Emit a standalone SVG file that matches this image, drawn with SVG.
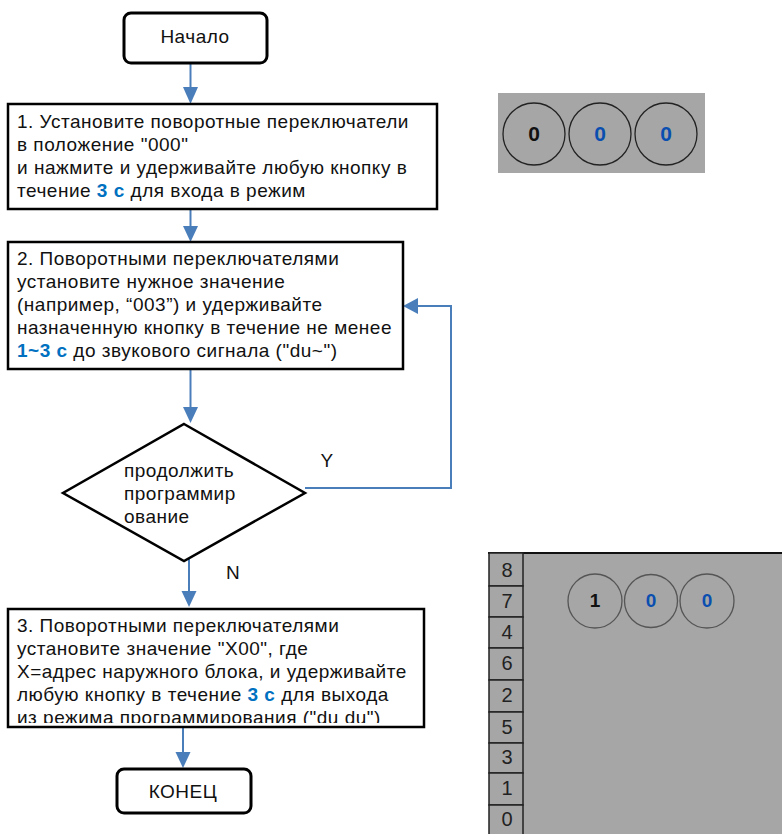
<svg xmlns="http://www.w3.org/2000/svg" width="782" height="834" viewBox="0 0 782 834">
<style>
  text { font-family: "Liberation Sans", Arial, sans-serif; font-size: 19px; letter-spacing: 0.5px; fill: #111; }
  .b { fill: #0070c0; font-weight: bold; }
  .box { fill: #fff; stroke: #000; stroke-width: 2.5; }
  .term { fill: #fff; stroke: #000; stroke-width: 3; }
  .conn { fill: none; stroke: #4a7ebb; stroke-width: 2; }
  .head { fill: #4a7ebb; }
  .panel { fill: #a6a6a6; }
  .dial { fill: none; stroke: #222; stroke-width: 1.3; }
  .dial2 { fill: none; stroke: #555; stroke-width: 1.3; }
  .d0 { font-weight: bold; font-size: 21px; letter-spacing: 0; text-anchor: middle; }
  .d1 { font-weight: bold; font-size: 19px; letter-spacing: 0; text-anchor: middle; }
  .blu { fill: #0a4fb0; }
  .cell { fill: #a6a6a6; stroke: #222; stroke-width: 1.5; }
  .num { font-size: 20px; letter-spacing: 0; text-anchor: middle; fill: #222; }
</style>
<defs>
  <clipPath id="c3"><rect x="8" y="609" width="415" height="114"/></clipPath>
</defs>
<rect width="782" height="834" fill="#fff"/>

<g id="connectors">
  <line class="conn" x1="190.5" y1="64" x2="190.5" y2="88"/>
  <path class="head" d="M183,87 L198,87 L190.5,104 Z"/>
  <line class="conn" x1="190.5" y1="201" x2="190.5" y2="227"/>
  <path class="head" d="M183,226 L198,226 L190.5,242 Z"/>
  <line class="conn" x1="190.5" y1="369" x2="190.5" y2="408"/>
  <path class="head" d="M183,407 L198,407 L190.5,423 Z"/>
  <polyline class="conn" points="305,488 451,488 451,306 417,306"/>
  <path class="head" d="M418,298 L418,314 L403,306 Z"/>
  <line class="conn" x1="189" y1="552" x2="189" y2="592"/>
  <path class="head" d="M181.5,591 L196.5,591 L189,607 Z"/>
  <line class="conn" x1="183" y1="727" x2="183" y2="753"/>
  <path class="head" d="M175.5,752 L190.5,752 L183,768 Z"/>
  <text x="327" y="467" text-anchor="middle">Y</text>
  <text x="233" y="579" text-anchor="middle">N</text>
</g>

<g id="start">
  <rect class="term" x="124" y="13" width="143" height="50" rx="7"/>
  <text x="195" y="43" text-anchor="middle">Начало</text>
</g>

<g id="step1">
  <rect class="box" x="8" y="104" width="429" height="105"/>
  <text x="17" y="128">1. Установите поворотные переключатели</text>
  <text x="17" y="151">в положение "000"</text>
  <text x="17" y="174">и нажмите и удерживайте любую кнопку в</text>
  <text x="17" y="197">течение <tspan class="b">3 с</tspan> для входа в режим</text>
</g>

<g id="step2">
  <rect class="box" x="8" y="242" width="395" height="127"/>
  <text x="17" y="265">2. Поворотными переключателями</text>
  <text x="17" y="288">установите нужное значение</text>
  <text x="17" y="311">(например, “003”) и удерживайте</text>
  <text x="17" y="334">назначенную кнопку в течение не менее</text>
  <text x="17" y="357"><tspan class="b">1~3 с</tspan> до звукового сигнала ("du~")</text>
</g>

<g id="decision">
  <polygon points="184,424 305,493 184,561 63,493" fill="#fff" stroke="#000" stroke-width="2.5"/>
  <text x="124" y="477">продолжить</text>
  <text x="124" y="500">программир</text>
  <text x="124" y="523">ование</text>
</g>

<g id="step3">
  <rect class="box" x="8" y="609" width="416" height="118"/>
  <g clip-path="url(#c3)">
    <text x="17" y="632">3. Поворотными переключателями</text>
    <text x="17" y="655">установите значение "X00", где</text>
    <text x="17" y="678">X=адрес наружного блока, и удерживайте</text>
    <text x="17" y="701">любую кнопку в течение <tspan class="b">3 с</tspan> для выхода</text>
    <text x="17" y="724">из режима программирования ("du du")</text>
  </g>
</g>

<g id="end">
  <rect class="term" x="117" y="769" width="134" height="44" rx="7"/>
  <text x="183" y="798" text-anchor="middle">КОНЕЦ</text>
</g>

<g id="dials-top">
  <rect class="panel" x="498" y="93" width="207" height="80"/>
  <circle class="dial" cx="534" cy="134" r="31"/>
  <circle class="dial" cx="600" cy="134" r="31"/>
  <circle class="dial" cx="666" cy="134" r="31"/>
  <text class="d0" x="534" y="141">0</text>
  <text class="d0 blu" x="600" y="141">0</text>
  <text class="d0 blu" x="666" y="141">0</text>
</g>

<g id="dials-bottom">
  <rect class="panel" x="523" y="553" width="259" height="281"/>
  <line x1="488" y1="553" x2="782" y2="553" stroke="#111" stroke-width="2"/>
  <rect class="cell" x="489" y="553" width="34" height="33"/>
  <rect class="cell" x="489" y="586" width="34" height="31"/>
  <rect class="cell" x="489" y="617" width="34" height="31"/>
  <rect class="cell" x="489" y="648" width="34" height="32"/>
  <rect class="cell" x="489" y="680" width="34" height="32"/>
  <rect class="cell" x="489" y="712" width="34" height="31"/>
  <rect class="cell" x="489" y="743" width="34" height="30"/>
  <rect class="cell" x="489" y="773" width="34" height="32"/>
  <rect class="cell" x="489" y="805" width="34" height="32"/>
  <text class="num" x="507" y="577">8</text>
  <text class="num" x="507" y="608">7</text>
  <text class="num" x="507" y="639">4</text>
  <text class="num" x="507" y="670">6</text>
  <text class="num" x="507" y="702">2</text>
  <text class="num" x="507" y="734">5</text>
  <text class="num" x="507" y="764">3</text>
  <text class="num" x="507" y="795">1</text>
  <text class="num" x="507" y="826">0</text>
  <circle class="dial2" cx="595" cy="601" r="27"/>
  <circle class="dial2" cx="651" cy="601" r="26.5"/>
  <circle class="dial2" cx="707" cy="601" r="27"/>
  <text class="d1" x="595" y="607">1</text>
  <text class="d1 blu" x="651" y="607">0</text>
  <text class="d1 blu" x="707" y="607">0</text>
</g>
</svg>
